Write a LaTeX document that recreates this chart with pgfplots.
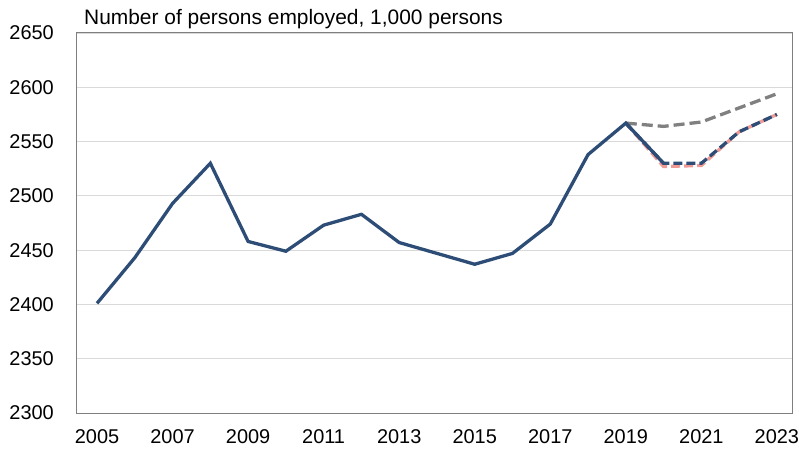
\documentclass[border=0pt]{standalone}
\usepackage{pgfplots}
\pgfplotsset{compat=1.18}
\usepackage{fontspec}
\setmainfont{Liberation Sans}
\definecolor{nblue}{HTML}{2D4D77}
\definecolor{ngray}{HTML}{808080}
\definecolor{npink}{HTML}{F09A96}
\definecolor{gridgray}{HTML}{D9D9D9}
\definecolor{framegray}{HTML}{7F7F7F}

\begin{document}
\begin{tikzpicture}
\begin{axis}[
    scale only axis,
    width=715bp, height=380bp,
    xmin=2004.47, xmax=2023.4,
    ymin=2300, ymax=2650,
    xtick={2005,2007,...,2023},
    ytick={2300,2350,...,2650},
    major tick length=0pt,
    ymajorgrids,
    grid style={color=gridgray, line width=0.8bp},
    axis line style={color=framegray, line width=1bp},
    tick label style={font=\fontsize{20}{24}\selectfont, inner sep=0pt},
    xticklabel style={yshift=-16bp},
    yticklabel style={xshift=-23bp},
    /pgf/number format/assume math mode=true,
    /pgf/number format/1000 sep={},
    clip=false,
]
% scenario series (behind)
\addplot[npink, line width=3.3bp, dash pattern=on 9bp off 4bp] coordinates {
    (2019,2567) (2020,2527) (2021,2528) (2022,2559) (2023,2575)};
\addplot[ngray, line width=3.3bp, dash pattern=on 11bp off 5bp] coordinates {
    (2019,2567) (2020,2564) (2021,2568) (2022,2581) (2023,2594)};
\addplot[nblue, line width=3.3bp, dash pattern=on 9bp off 4bp] coordinates {
    (2019,2567) (2020,2530) (2021,2530) (2022,2559) (2023,2575)};
% observed
\addplot[nblue, line width=3.3bp] coordinates {
    (2005,2401) (2006,2443) (2007,2493) (2008,2530) (2009,2458)
    (2010,2449) (2011,2473) (2012,2483) (2013,2457) (2014,2447)
    (2015,2437) (2016,2447) (2017,2474) (2018,2538) (2019,2567)
    (2020,2530)};
\node[anchor=base west, inner sep=0pt, font=\fontsize{21}{25}\selectfont]
    at ([xshift=7bp, yshift=8bp]rel axis cs:0,1) {Number of persons employed, 1,000 persons};
\coordinate (bl) at (rel axis cs:0,0);
\coordinate (tr) at (rel axis cs:1,1);
\end{axis}
\pgfresetboundingbox
\path[use as bounding box] ([shift={(-77bp,-37bp)}]bl) rectangle ([shift={(7bp,33bp)}]tr);
\end{tikzpicture}
\end{document}
